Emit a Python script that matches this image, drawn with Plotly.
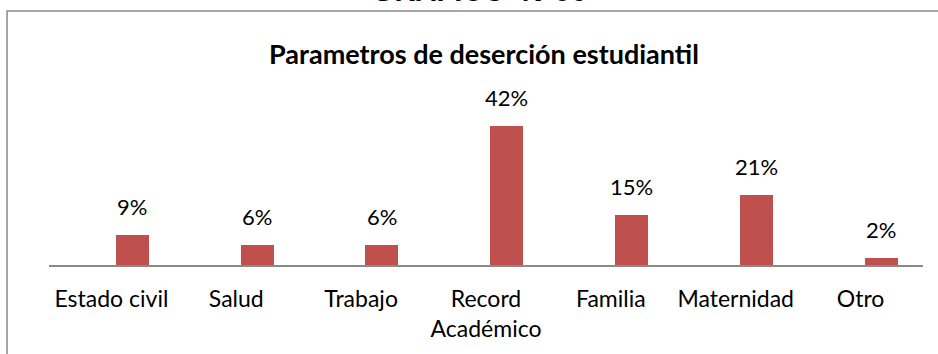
import plotly.graph_objects as go

# Survey results: reasons given for student dropout
categories = ["Estado civil", "Salud", "Trabajo", "Record<br>Académico",
              "Familia", "Maternidad", "Otro"]
percentages = [9, 6, 6, 42, 15, 21, 2]

heading = "GRAFICO  N°06"
chart_title = "Parametros de deserción estudiantil"

BAR_COLOR = "#C0504D"
FRAME_COLOR = "#8A8A8A"
FONT = "Lato"

BAR_WIDTH = 0.265
BAR_OFFSET = 0.034

fig = go.Figure()
fig.add_trace(go.Bar(
    x=categories,
    y=percentages,
    width=BAR_WIDTH,
    offset=BAR_OFFSET,
    marker=dict(color=BAR_COLOR, line=dict(width=0)),
    hoverinfo="skip",
))

# Percentage labels centred over each bar
plot_w = 938 - 49 - 15
cat_px = plot_w / len(categories)
shift_px = (BAR_OFFSET + BAR_WIDTH / 2) * cat_px
for cat, val in zip(categories, percentages):
    fig.add_annotation(
        x=cat, y=val, xref="x", yref="y",
        text=f"{val}%", showarrow=False,
        xanchor="center", yanchor="bottom",
        xshift=shift_px, yshift=13,
        font=dict(family=FONT, size=22, color="#000000"),
    )

# Heading of the page, partly above the chart frame
fig.add_annotation(
    x=0.493, y=1.838, xref="paper", yref="paper",
    text=f"<b>{heading}</b>", showarrow=False,
    xanchor="center", yanchor="middle",
    font=dict(family="Liberation Sans", size=29, color="#000000"),
)

# Outer chart frame
fig.add_shape(
    type="rect", xref="paper", yref="paper",
    x0=-0.048, x1=1.2, y0=-1.0, y1=1.704,
    line=dict(color=FRAME_COLOR, width=1.5),
    fillcolor="rgba(0,0,0,0)", layer="below",
)

fig.update_layout(
    width=938, height=354,
    margin=dict(l=49, r=15, t=116, b=89, pad=0),
    paper_bgcolor="white", plot_bgcolor="white",
    showlegend=False,
    title=dict(
        text=f"<b>{chart_title}</b>",
        x=0.516, xref="container", xanchor="center",
        y=1 - 55 / 354, yref="container", yanchor="middle",
        font=dict(family=FONT, size=27, color="#000000"),
    ),
    xaxis=dict(
        type="category",
        showline=True, linecolor=FRAME_COLOR, linewidth=2,
        showgrid=False, zeroline=False, ticks="",
        ticklabelstandoff=12,
        tickfont=dict(family=FONT, size=23, color="#000000"),
    ),
    yaxis=dict(
        range=[0, 45], visible=False, showgrid=False, zeroline=False,
    ),
    bargap=0,
)

fig.write_html("out.html")
